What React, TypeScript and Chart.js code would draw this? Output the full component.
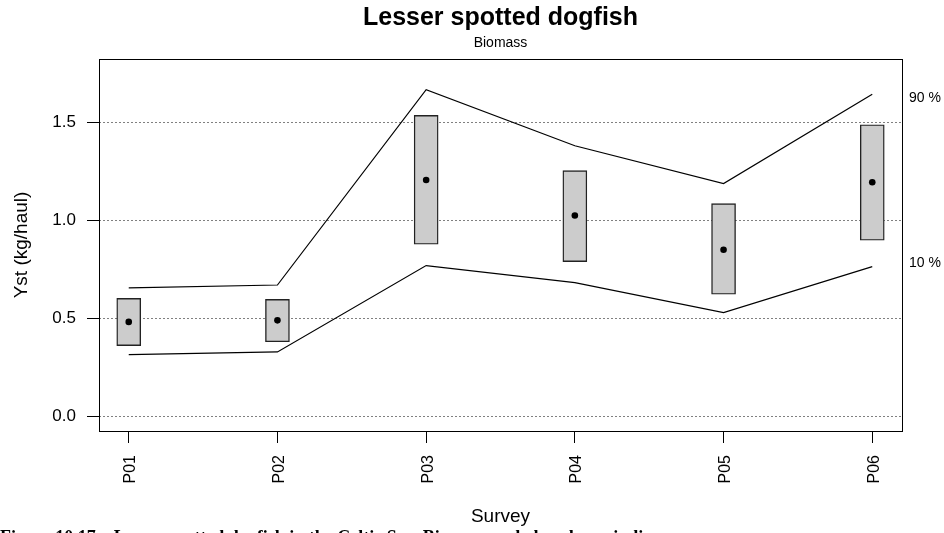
import React, { useEffect, useRef } from "react";
import { Chart, registerables } from "chart.js";

Chart.register(...registerables);

const surveys = ["P01", "P02", "P03", "P04", "P05", "P06"];
const surveyPos = [1, 2, 3, 4, 5, 6];
const boxLow = [0.362, 0.382, 0.879, 0.79, 0.624, 0.899];
const boxHigh = [0.603, 0.598, 1.536, 1.254, 1.086, 1.488];
const estimate = [0.483, 0.491, 1.206, 1.025, 0.851, 1.195];
const upper90 = [0.656, 0.671, 1.667, 1.381, 1.188, 1.643];
const lower10 = [0.316, 0.33, 0.77, 0.683, 0.53, 0.765];
const yTicks = [0, 0.5, 1.0, 1.5];

const titleText = "Lesser spotted dogfish";
const subtitleText = "Biomass";
const xTitle = "Survey";
const yTitle = "Yst (kg/haul)";
const upperLabel = "90 %";
const lowerLabel = "10 %";
const captionText =
  "Figure 10.17    Lesser spotted dogfish in the Celtic Sea. Biomass and abundance indices";

const FONT = "'Liberation Sans', Arial, Helvetica, sans-serif";

const decorPlugin = {
  id: "decor",
  beforeDraw(chart: any) {
    const { ctx, width, height } = chart;
    ctx.save();
    ctx.fillStyle = "#ffffff";
    ctx.fillRect(0, 0, width, height);
    ctx.restore();
  },
  afterDraw(chart: any) {
    const { ctx, chartArea } = chart;
    const { left, right, top, bottom } = chartArea;
    const cx = (left + right) / 2;
    const ys = chart.scales.y;
    ctx.save();
    // frame
    ctx.strokeStyle = "#000";
    ctx.lineWidth = 1;
    ctx.setLineDash([]);
    ctx.strokeRect(Math.round(left) + 0.5, Math.round(top) + 0.5, Math.round(right - left), Math.round(bottom - top));
    // titles
    ctx.fillStyle = "#000";
    ctx.textAlign = "center";
    ctx.textBaseline = "alphabetic";
    ctx.font = `bold 25px ${FONT}`;
    ctx.fillText(titleText, cx, 25);
    ctx.font = `14px ${FONT}`;
    ctx.fillText(subtitleText, cx, 47);
    // percentile labels
    ctx.textAlign = "left";
    ctx.textBaseline = "middle";
    ctx.font = `14px ${FONT}`;
    ctx.fillText(upperLabel, right + 7, ys.getPixelForValue(upper90[upper90.length - 1]) + 4);
    ctx.fillText(lowerLabel, right + 7, ys.getPixelForValue(lower10[lower10.length - 1]) - 3);
    // caption (cut off at bottom)
    ctx.textBaseline = "top";
    ctx.font = `bold 18px 'Liberation Serif', 'Times New Roman', serif`;
    ctx.fillText(captionText, 0, 529);
    ctx.restore();
  },
};

export default function App() {
  const ref = useRef<HTMLCanvasElement | null>(null);

  useEffect(() => {
    document.body.style.margin = "0";
    const canvas = ref.current;
    if (!canvas) return;
    const chart = new Chart(canvas, {
      type: "bar",
      data: {
        datasets: [
          {
            type: "bar",
            label: "box",
            data: surveyPos.map((x, i) => ({ x, y: [boxLow[i], boxHigh[i]] })) as any,
            backgroundColor: "#cccccc",
            borderColor: "#222222",
            borderWidth: 1.4,
            borderSkipped: false,
            barThickness: 24,
            order: 3,
          } as any,
          {
            type: "line",
            label: "90%",
            data: surveyPos.map((x, i) => ({ x, y: upper90[i] })),
            borderColor: "#000000",
            borderWidth: 1.2,
            pointRadius: 0,
            tension: 0,
            fill: false,
            order: 2,
          } as any,
          {
            type: "line",
            label: "10%",
            data: surveyPos.map((x, i) => ({ x, y: lower10[i] })),
            borderColor: "#000000",
            borderWidth: 1.2,
            pointRadius: 0,
            tension: 0,
            fill: false,
            order: 2,
          } as any,
          {
            type: "scatter",
            label: "estimate",
            data: surveyPos.map((x, i) => ({ x, y: estimate[i] })),
            backgroundColor: "#000000",
            borderColor: "#000000",
            borderWidth: 0,
            pointRadius: 3.3,
            order: 1,
          } as any,
        ],
      },
      options: {
        animation: false,
        responsive: false,
        devicePixelRatio: 1,
        events: [],
        layout: { padding: { left: 0, top: 59, right: 42, bottom: 0 } },
        plugins: {
          legend: { display: false },
          tooltip: { enabled: false },
          title: { display: false },
        },
        scales: {
          x: {
            type: "linear",
            offset: false,
            min: 0.8,
            max: 6.2,
            afterBuildTicks: (s: any) => {
              s.ticks = surveyPos.map((v) => ({ value: v }));
            },
            afterFit: (s: any) => {
              s.height = 102;
            },
            ticks: {
              autoSkip: false,
              maxRotation: 90,
              minRotation: 90,
              padding: 12,
              labelOffset: 2,
              color: "#000",
              font: { family: FONT, size: 16 },
              callback: (v: any) => surveys[surveyPos.indexOf(Number(v))] ?? "",
            },
            grid: {
              offset: false,
              drawOnChartArea: false,
              drawTicks: true,
              tickLength: 12,
              tickColor: "#000",
              tickWidth: 1,
              color: "#000",
            },
            border: { display: false },
            title: {
              display: true,
              text: xTitle,
              color: "#000",
              font: { family: FONT, size: 19 },
              padding: { top: 0, bottom: 5 },
            },
          } as any,
          y: {
            type: "linear",
            min: -0.073,
            max: 1.823,
            afterBuildTicks: (s: any) => {
              s.ticks = yTicks.map((v) => ({ value: v }));
            },
            afterFit: (s: any) => {
              s.width = 99;
            },
            ticks: {
              padding: 11,
              color: "#000",
              font: { family: FONT, size: 17 },
              callback: (v: any) => Number(v).toFixed(1),
            },
            grid: {
              drawOnChartArea: true,
              drawTicks: true,
              tickLength: 12,
              color: "#808080",
              lineWidth: 1,
              tickColor: "#000",
              tickWidth: 1,
              tickBorderDash: [],
            },
            border: { display: false, dash: [2, 2] },
            title: {
              display: true,
              text: yTitle,
              color: "#000",
              font: { family: FONT, size: 19 },
              padding: { top: 10, bottom: 0 },
            },
          } as any,
        },
      } as any,
      plugins: [decorPlugin],
    });
    return () => chart.destroy();
  }, []);

  return (
    <div style={{ width: 944, height: 533, overflow: "hidden" }}>
      <canvas ref={ref} width={944} height={533} style={{ display: "block", width: 944, height: 533 }} />
    </div>
  );
}
